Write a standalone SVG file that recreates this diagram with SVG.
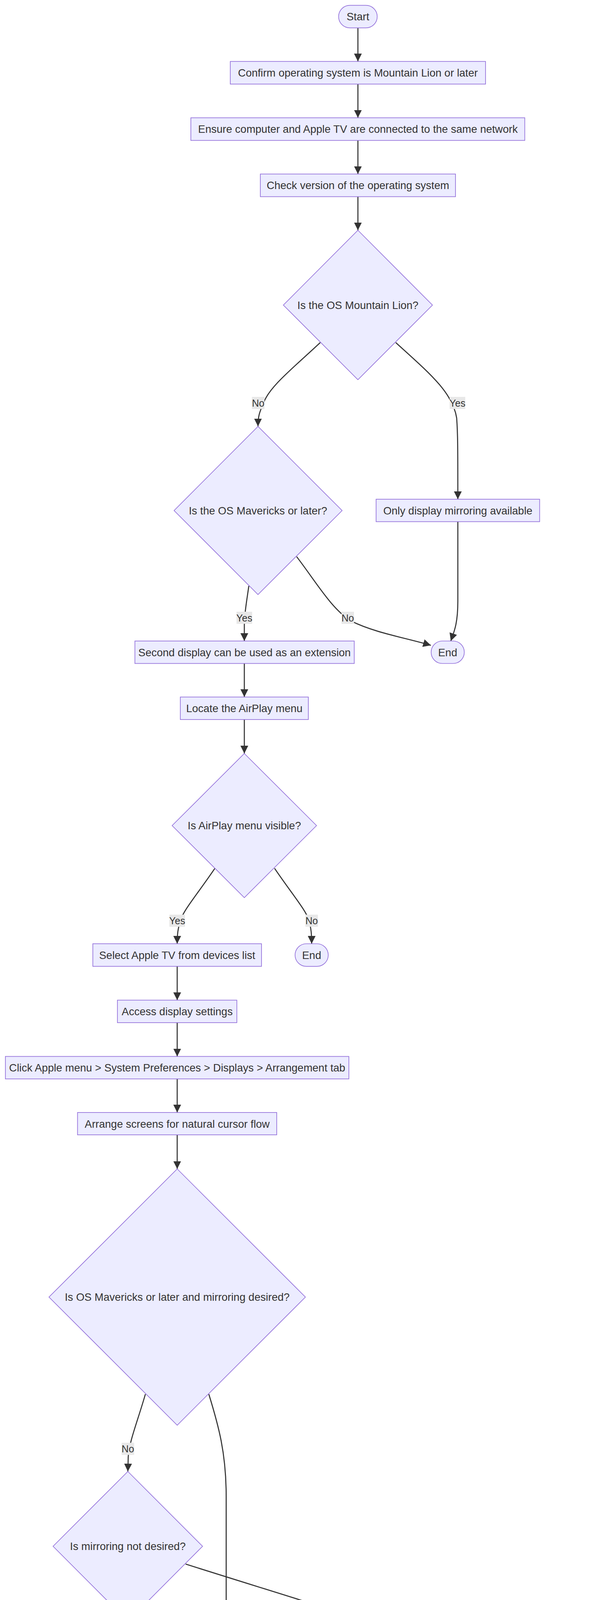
<svg xmlns="http://www.w3.org/2000/svg" width="1568" height="5114" viewBox="0 0 1568 5114">
<defs>
<marker id="arrow" viewBox="0 0 10 10" refX="10" refY="5" markerUnits="userSpaceOnUse" markerWidth="20" markerHeight="20" orient="auto">
<path d="M0,0 L10,5 L0,10 z" fill="#333333"/>
</marker>
<style>
.node rect, .node polygon { fill: #ECECFF; stroke: #9370DB; stroke-width: 1.7; }
.node text { font-family: "Liberation Sans", Arial, sans-serif; font-size: 27.5px; fill: #333333; text-anchor: middle; }
.edge { fill: none; stroke: #333333; stroke-width: 2.7; marker-end: url(#arrow); }
.lbl rect { fill: #E8E8E8; stroke: none; }
.lbl text { font-family: "Liberation Sans", Arial, sans-serif; font-size: 25px; fill: #333333; text-anchor: middle; }
</style>
</defs>
<rect x="0" y="0" width="1568" height="5114" fill="#ffffff"/>

<g id="connectors">
<path class="edge" d="M917,71.4 L917,157.3"/>
<path class="edge" d="M917,215.3 L917,301.5"/>
<path class="edge" d="M917,359.5 L917,445.5"/>
<path class="edge" d="M917,503.5 L917,589.5"/>
<path class="edge" d="M820.5,877 C750,943 690,990 675,1032 C665,1055 661,1065 661,1091.5"/>
<path class="edge" d="M1014,877 C1100,955 1160,1005 1170,1070 C1173,1110 1173,1150 1173,1278"/>
<path class="edge" d="M637.5,1500 C632,1540 626,1570 626,1600 L626,1641"/>
<path class="edge" d="M760,1425 C810,1490 850,1560 900,1590 C960,1620 1040,1633 1104,1652"/>
<path class="edge" d="M1173,1335.5 L1173,1540 C1173,1600 1162,1620 1155,1641"/>
<path class="edge" d="M626,1698 L626,1784.4"/>
<path class="edge" d="M626,1842 L626,1929"/>
<path class="edge" d="M550.5,2223 C505,2290 470,2330 462,2357 C456,2378 454,2390 454,2416"/>
<path class="edge" d="M703.5,2223 C749,2290 784,2330 792,2357 C797,2378 798.5,2390 798.5,2416"/>
<path class="edge" d="M454,2474 L454,2560.4"/>
<path class="edge" d="M454,2618 L454,2704.5"/>
<path class="edge" d="M454,2762 L454,2848"/>
<path class="edge" d="M454,2905 L454,2992.5"/>
<path class="edge" d="M372.5,3569 C352,3640 331,3690 328.5,3730 L327.6,3767"/>
<path class="edge" d="M535,3569 C560,3650 579.5,3720 579.5,3830 L579.5,4844.7"/>
<path class="edge" d="M327.6,4150.5 L327.6,4268.8"/>
<path class="edge" d="M475.6,4004 C700,4075 950,4150 1060,4192 C1120,4215 1145,4235 1145,4268.8"/>
<path class="edge" d="M1145,4326.5 L1145,4412.8"/>
<path class="edge" d="M1145,4470.5 L1145,4556.7"/>
<path class="edge" d="M1145,4614.5 L1145,4700"/>
<path class="edge" d="M1145,4758 L1145,4844.7"/>
<path class="edge" d="M580,4902 L580,4920 C580,4950 620,4962 690,4982 L820,5007"/>
<path class="edge" d="M1145,4902 L1145,4920 C1145,4950 1105,4962 1035,4982 L905,5004"/>
</g>

<g id="edge-labels">
<g class="lbl"><rect x="645.5" y="1016" width="32" height="31"/><text x="661.5" y="1040.5">No</text></g>
<g class="lbl"><rect x="1152" y="1016" width="40" height="31"/><text x="1172" y="1040.5">Yes</text></g>
<g class="lbl"><rect x="606" y="1566" width="40" height="31"/><text x="626" y="1590.5">Yes</text></g>
<g class="lbl"><rect x="875" y="1566" width="32" height="31"/><text x="891" y="1590.5">No</text></g>
<g class="lbl"><rect x="434" y="2341.5" width="40" height="31"/><text x="454" y="2366">Yes</text></g>
<g class="lbl"><rect x="782.5" y="2341.5" width="32" height="31"/><text x="798.5" y="2366">No</text></g>
<g class="lbl"><rect x="311.6" y="3693.5" width="32" height="31"/><text x="327.6" y="3718">No</text></g>
<g class="lbl"><rect x="560" y="4426.5" width="40" height="31"/><text x="580" y="4451">Yes</text></g>
<g class="lbl"><rect x="307.6" y="4194.5" width="40" height="31"/><text x="327.6" y="4219">Yes</text></g>
<g class="lbl"><rect x="1129" y="4194.5" width="32" height="31"/><text x="1145" y="4219">No</text></g>
</g>

<g id="start" class="node"><rect x="867.5" y="13.6" width="99" height="57.8" rx="28.9" ry="28.9"/><text x="917" y="52">Start</text></g>
<g id="confirm-os" class="node"><rect x="590" y="157.3" width="654" height="58"/><text x="917" y="196">Confirm operating system is Mountain Lion or later</text></g>
<g id="same-network" class="node"><rect x="489" y="301.5" width="855.5" height="58"/><text x="917" y="340">Ensure computer and Apple TV are connected to the same network</text></g>
<g id="check-version" class="node"><rect x="667" y="445.5" width="500" height="58"/><text x="917" y="484">Check version of the operating system</text></g>
<g id="is-mountain-lion" class="node"><polygon points="917,589.5 1108,781 917,972 726,781"/><text x="917" y="790.5">Is the OS Mountain Lion?</text></g>
<g id="is-mavericks" class="node"><polygon points="661,1091.7 876.5,1307 661,1522 446,1307"/><text x="661" y="1316.5">Is the OS Mavericks or later?</text></g>
<g id="only-mirroring" class="node"><rect x="963.6" y="1278" width="419" height="57.5"/><text x="1173" y="1316.5">Only display mirroring available</text></g>
<g id="end-1" class="node"><rect x="1104.6" y="1641" width="85" height="57.5" rx="28.7" ry="28.7"/><text x="1147" y="1679.5">End</text></g>
<g id="second-display" class="node"><rect x="345.6" y="1641" width="562" height="57.5"/><text x="626.5" y="1679.5">Second display can be used as an extension</text></g>
<g id="locate-airplay" class="node"><rect x="462" y="1784.4" width="328" height="57.6"/><text x="626" y="1823">Locate the AirPlay menu</text></g>
<g id="airplay-visible" class="node"><polygon points="626,1929 811,2113.5 626,2298 441,2113.5"/><text x="626" y="2123">Is AirPlay menu visible?</text></g>
<g id="select-apple-tv" class="node"><rect x="237.8" y="2416" width="432.2" height="57.8"/><text x="454" y="2454.5">Select Apple TV from devices list</text></g>
<g id="end-2" class="node"><rect x="756" y="2416" width="85" height="57.8" rx="28.9" ry="28.9"/><text x="798.5" y="2454.5">End</text></g>
<g id="access-display" class="node"><rect x="300.8" y="2560.4" width="306" height="57.6"/><text x="454" y="2599">Access display settings</text></g>
<g id="click-apple-menu" class="node"><rect x="13.8" y="2704.5" width="880" height="57.5"/><text x="454" y="2743">Click Apple menu &gt; System Preferences &gt; Displays &gt; Arrangement tab</text></g>
<g id="arrange-screens" class="node"><rect x="198.6" y="2848" width="510.4" height="57.2"/><text x="454" y="2886.5">Arrange screens for natural cursor flow</text></g>
<g id="mavericks-mirroring" class="node"><polygon points="454,2992.5 782.5,3320.5 454,3648.5 125.5,3320.5"/><text x="454" y="3330">Is OS Mavericks or later and mirroring desired?</text></g>
<g id="mirroring-not-desired" class="node"><polygon points="327.6,3767 519,3958.5 327.6,4150.5 136,3958.5"/><text x="327.6" y="3968">Is mirroring not desired?</text></g>
<g id="end-3" class="node"><rect x="284.8" y="4268.8" width="85" height="57.7" rx="28.8" ry="28.8"/><text x="327.6" y="4307">End</text></g>
<g id="manage-windows" class="node"><rect x="954" y="4268.8" width="382" height="57.7"/><text x="1145" y="4307">Manage window organization</text></g>
<g id="open-mission-control" class="node"><rect x="867" y="4412.8" width="557" height="57.7"/><text x="1145" y="4451">Open System Preferences &gt; Mission Control</text></g>
<g id="uncheck-spaces" class="node"><rect x="752" y="4556.7" width="786" height="57.8"/><text x="1145" y="4595">Uncheck 'Displays have separate spaces' if spanning is desired</text></g>
<g id="assign-apps" class="node"><rect x="947.7" y="4700" width="394.7" height="57.9"/><text x="1145" y="4738.5">Assign apps to specific Spaces</text></g>
<g id="right-click-app" class="node"><rect x="841" y="4844.7" width="608" height="57.2"/><text x="1145" y="4883">Right-click app icon &gt; Options &gt; Choose display</text></g>
<g id="check-mirror" class="node"><rect x="404.3" y="4844.7" width="351" height="57.2"/><text x="580" y="4883">Check 'Mirror Displays' box</text></g>
<g id="end-final" class="node"><rect x="820" y="4988" width="85" height="57.8" rx="28.9" ry="28.9"/><text x="862.5" y="5026.5">End</text></g>
</svg>
